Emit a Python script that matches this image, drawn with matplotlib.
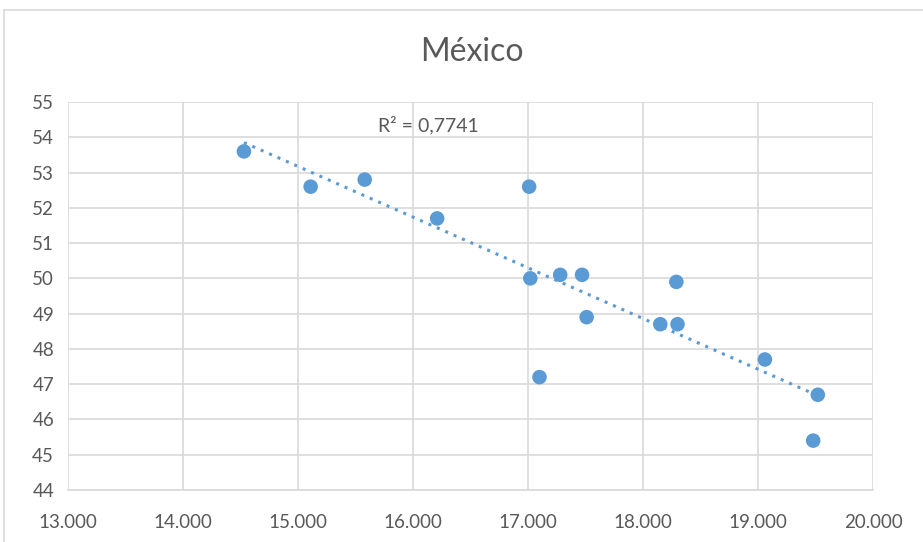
import numpy as np
import matplotlib as mpl
mpl.use('Agg')
import matplotlib.pyplot as plt
from matplotlib.patches import Rectangle
from matplotlib.ticker import FuncFormatter, MultipleLocator

# values (x in units, shown with '.' thousands separator)
x_vals = [14530, 15110, 15580, 16210, 17010, 17020, 17280, 17470,
          17510, 17100, 18150, 18290, 18300, 19060, 19520, 19480]
y_vals = [53.6, 52.6, 52.8, 51.7, 52.6, 50.0, 50.1, 50.1,
          48.9, 47.2, 48.7, 49.9, 48.7, 47.7, 46.7, 45.4]
title = 'México'
r2_label = 'R² = 0,7741'

blue = '#5b9bd5'
gray_text = '#595959'

plt.rcParams['font.family'] = ['Lato', 'DejaVu Sans']

fig = plt.figure(figsize=(9.23, 5.42), dpi=100)
# chart border
fig.patches.append(Rectangle((4 / 923, -0.1), 1.2, (532 + 54) / 542, transform=fig.transFigure,
                             fill=False, edgecolor='#d9d9d9', linewidth=1.2))
ax = fig.add_axes([68 / 923, 1 - 490 / 542, (873 - 68) / 923, (490 - 102) / 542])

ax.scatter(x_vals, y_vals, s=110, color=blue, zorder=3, edgecolors='none')

# linear trendline
coef = np.polyfit(x_vals, y_vals, 1)
tx = np.array([min(x_vals), max(x_vals)])
ax.plot(tx, np.polyval(coef, tx), linestyle=(0, (1, 2)), color=blue, linewidth=2.2, zorder=2)
ax.text(16130, 54.35, r2_label, fontsize=14, color=gray_text, va='center', ha='center')

ax.set_xlim(13000, 20000)
ax.set_ylim(44, 55)
ax.xaxis.set_major_locator(MultipleLocator(1000))
ax.yaxis.set_major_locator(MultipleLocator(1))
ax.xaxis.set_major_formatter(FuncFormatter(lambda v, p: f'{v:,.0f}'.replace(',', '.')))
ax.grid(True, color='#d9d9d9', linewidth=1.2)
ax.set_axisbelow(True)
for s in ['top', 'right', 'left']:
    ax.spines[s].set_visible(False)
ax.spines['bottom'].set_color('#d9d9d9')
ax.spines['bottom'].set_linewidth(1.2)
ax.tick_params(length=0, labelsize=13.5, labelcolor=gray_text)
ax.tick_params(axis='x', pad=17)
ax.tick_params(axis='y', pad=10)

fig.text(472 / 923, 1 - 52 / 542, title, fontsize=23, color=gray_text, ha='center', va='center')

fig.savefig('out.png', dpi=100)
